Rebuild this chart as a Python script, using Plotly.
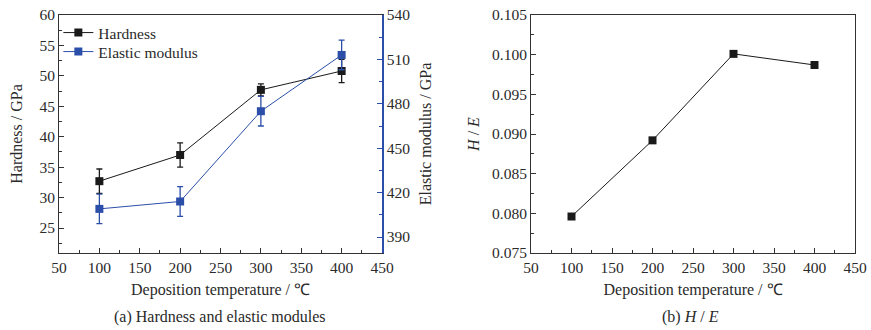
import plotly.graph_objects as go

temps = [100, 200, 300, 400]
hardness = [32.7, 37.0, 47.7, 50.8]
hardness_err = [2.0, 2.0, 1.0, 1.9]
modulus = [409, 414, 475, 513]
modulus_err = [10, 10, 10, 10]
h_over_e = [0.0796, 0.0892, 0.1001, 0.0987]

BLACK = "#1a1a1a"
BLUE = "#2b4ea8"
AX = "#333333"
FONT = "Liberation Serif"
TXT = "#2a2a2a"

fig = go.Figure()

fig.add_trace(go.Scatter(
    x=temps, y=hardness, name="Hardness", mode="lines+markers",
    line=dict(color=BLACK, width=1),
    marker=dict(symbol="square", size=8, color=BLACK),
    error_y=dict(type="data", array=hardness_err, color=BLACK, thickness=1.3, width=3),
    xaxis="x", yaxis="y", legend="legend"))

fig.add_trace(go.Scatter(
    x=temps, y=modulus, name="Elastic modulus", mode="lines+markers",
    line=dict(color=BLUE, width=1),
    marker=dict(symbol="square", size=8, color=BLUE),
    error_y=dict(type="data", array=modulus_err, color=BLUE, thickness=1.3, width=3),
    xaxis="x", yaxis="y2", legend="legend2"))

fig.add_trace(go.Scatter(
    x=temps, y=h_over_e, name="H/E", mode="lines+markers", showlegend=False,
    line=dict(color=BLACK, width=1),
    marker=dict(symbol="square", size=8, color=BLACK),
    xaxis="x2", yaxis="y3"))

tickfont = dict(family=FONT, size=15.5, color=TXT)
titlefont = dict(family=FONT, size=16, color=TXT)
ydom = [77 / 330, 315 / 330]

common_x = dict(range=[50, 450], dtick=50, tick0=0, ticks="inside", ticklen=5,
                tickwidth=1, tickcolor=AX, showline=True, linecolor=AX, linewidth=1,
                mirror=True, showgrid=False, zeroline=False, tickfont=tickfont,
                automargin=False,
                minor=dict(ticks="inside", dtick=25, ticklen=3, tickcolor=AX),
                title=dict(text="Deposition temperature / ℃", font=titlefont, standoff=9))

legend_common = dict(xanchor="left", yanchor="middle",
                     font=dict(family=FONT, size=15.5, color=TXT),
                     bgcolor="rgba(0,0,0,0)", itemwidth=30)

fig.update_layout(
    width=871, height=330,
    margin=dict(l=0, r=0, t=0, b=0),
    paper_bgcolor="white", plot_bgcolor="white",
    font=dict(family=FONT, color=TXT),
    showlegend=True,
    legend=dict(x=0.067, y=1 - 33 / 330, **legend_common),
    legend2=dict(x=0.067, y=1 - 52 / 330, **legend_common),
    xaxis=dict(domain=[59 / 871, 382 / 871], anchor="y", **common_x),
    yaxis=dict(domain=ydom, anchor="x", range=[20.9, 60], dtick=5, tick0=0,
               ticks="inside", ticklen=5, tickcolor=AX, showline=True, linecolor=AX,
               linewidth=1, showgrid=False, zeroline=False, tickfont=tickfont,
               automargin=False,
               minor=dict(ticks="inside", dtick=2.5, ticklen=3, tickcolor=AX),
               title=dict(text="Hardness / GPa", font=titlefont, standoff=12)),
    yaxis2=dict(overlaying="y", side="right", anchor="x", range=[379.2, 540], dtick=30,
                tick0=0, ticks="inside", ticklen=5, tickcolor=BLUE, showline=True,
                linecolor=BLUE, linewidth=1.5, showgrid=False, zeroline=False,
                tickfont=tickfont, automargin=False,
                minor=dict(ticks="inside", dtick=15, ticklen=3, tickcolor=BLUE),
                title=dict(text="Elastic modulus / GPa", font=titlefont, standoff=10)),
    xaxis2=dict(domain=[531 / 871, 855 / 871], anchor="y3", **common_x),
    yaxis3=dict(domain=ydom, anchor="x2", range=[0.075, 0.105], dtick=0.005, tick0=0,
                tickformat=".3f", ticks="inside", ticklen=5, tickcolor=AX, showline=True,
                linecolor=AX, linewidth=1, mirror=True, showgrid=False, zeroline=False,
                tickfont=tickfont, automargin=False,
                minor=dict(ticks="inside", dtick=0.0025, ticklen=3, tickcolor=AX),
                title=dict(text="<i>H</i> / <i>E</i>", font=titlefont, standoff=8)),
    annotations=[
        dict(text="(a) Hardness and elastic modules", x=220 / 871, y=1 - 317 / 330,
             xref="paper", yref="paper", showarrow=False, xanchor="center",
             yanchor="middle", font=dict(family=FONT, size=16, color=TXT)),
        dict(text="(b) <i>H</i> / <i>E</i>", x=690 / 871, y=1 - 317 / 330,
             xref="paper", yref="paper", showarrow=False, xanchor="center",
             yanchor="middle", font=dict(family=FONT, size=16, color=TXT)),
    ],
)

fig.write_html("out.html")
